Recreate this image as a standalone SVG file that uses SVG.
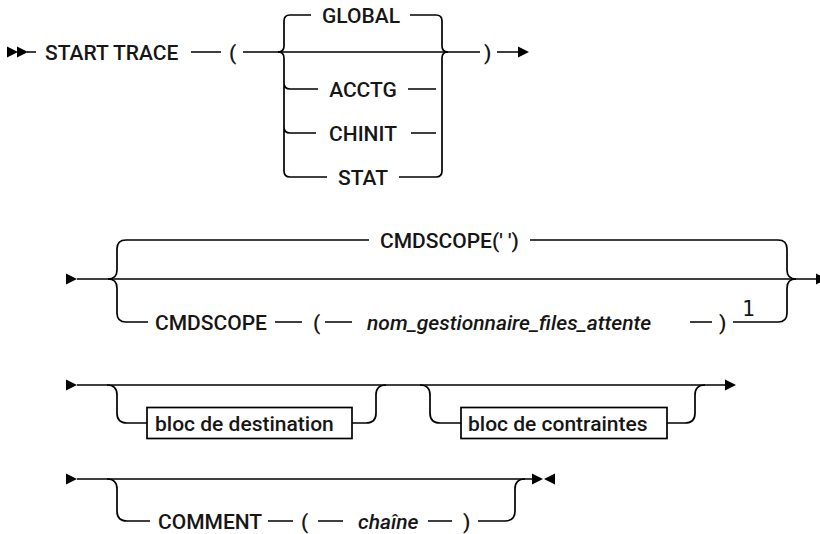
<svg xmlns="http://www.w3.org/2000/svg" xmlns:xlink="http://www.w3.org/1999/xlink" width="820" height="534" viewBox="0 0 820 534">
<style>
.ln{fill:none;stroke:#000;stroke-width:1.7}
.t{font-family:Roboto,"Liberation Sans",sans-serif;font-size:21px;font-weight:500;fill:#161616}
.i{font-style:italic}
.m{text-anchor:middle}
.box{fill:#fff;stroke:#000;stroke-width:1.7}
.sup{font-family:"DejaVu Sans Mono","Liberation Mono",monospace;font-size:21px;font-weight:500;fill:#161616}
</style>
<defs>
<path id="ar" d="M0,-5.5 L11,0 L0,5.5 Z" fill="#000"/>
<path id="al" d="M0,-5.5 L-11,0 L0,5.5 Z" fill="#000"/>
</defs>
<g id="connectors">
<path class="ln" d="M27,52 H36 M191,52 H221 M243,52 H480 M497,52 H519"/>
<path class="ln" d="M278,52 Q284,52 284,46 V21 Q284,15 290,15 H311 M410,15 H436 Q442,15 442,21 V46 Q442,52 448,52"/>
<path class="ln" d="M278,52 Q284,52 284,58 V171 Q284,177 290,177 H327 M284,83 Q284,89 290,89 H318 M284,127 Q284,133 290,133 H316"/>
<path class="ln" d="M399,177 H436 Q442,177 442,171 V58 Q442,52 448,52 M408,89 H436 M411,133 H436"/>
<path class="ln" d="M77,279 H816"/>
<path class="ln" d="M108,279 Q117,279 117,270 V249 Q117,240 126,240 H369 M530,240 H778 Q787,240 787,249 V270 Q787,279 796,279"/>
<path class="ln" d="M108,279 Q117,279 117,288 V313 Q117,322 126,322 H148 M275,322 H302 M325,322 H352 M690,322 H712 M733,322 H778 Q787,322 787,313 V288 Q787,279 796,279"/>
<path class="ln" d="M77,385 H725"/>
<path class="ln" d="M107,385 Q117,385 117,395 V413 Q117,423 127,423 H147 M352,423 H366 Q376,423 376,413 V395 Q376,385 386,385"/>
<path class="ln" d="M420,385 Q430,385 430,395 V413 Q430,423 440,423 H461 M667,423 H685 Q695,423 695,413 V395 Q695,385 705,385"/>
<path class="ln" d="M77,479 H532"/>
<path class="ln" d="M107,479 Q117,479 117,489 V511 Q117,521 127,521 H150 M268,521 H293 M318,521 H343 M428,521 H452 M478,521 H505 Q515,521 515,511 V489 Q515,479 525,479"/>
</g>
<g id="start1"><use xlink:href="#ar" x="7" y="52"/><use xlink:href="#ar" x="17" y="52"/></g>
<g id="kw-start-trace"><text class="t" x="45" y="59.5">START TRACE</text></g>
<g id="lparen1"><text class="t" x="229" y="59.5">(</text></g>
<g id="opt-global"><text class="t m" x="361" y="22.5">GLOBAL</text></g>
<g id="opt-acctg"><text class="t m" x="363" y="96.5">ACCTG</text></g>
<g id="opt-chinit"><text class="t m" x="363" y="140.5">CHINIT</text></g>
<g id="opt-stat"><text class="t m" x="363" y="184.5">STAT</text></g>
<g id="rparen1"><text class="t" x="484" y="59.5">)</text></g>
<g id="end1"><use xlink:href="#ar" x="518" y="52"/></g>
<g id="start2"><use xlink:href="#ar" x="66" y="279"/></g>
<g id="opt-cmdscope-default"><text class="t" x="380" y="247.5">CMDSCOPE(' ')</text></g>
<g id="kw-cmdscope"><text class="t" x="155" y="329.5">CMDSCOPE</text></g>
<g id="lparen2"><text class="t" x="313" y="329.5">(</text></g>
<g id="var-qmgr"><text class="t i" x="367" y="329.5">nom_gestionnaire_files_attente</text></g>
<g id="rparen2"><text class="t" x="719" y="329.5">)</text></g>
<g id="note1"><text class="sup" x="742" y="316">1</text></g>
<g id="end2"><use xlink:href="#ar" x="816" y="279"/></g>
<g id="start3"><use xlink:href="#ar" x="66" y="385"/></g>
<g id="bloc-destination"><rect class="box" x="147" y="407.5" width="205" height="31"/><text class="t" x="155" y="430.5">bloc de destination</text></g>
<g id="bloc-contraintes"><rect class="box" x="461" y="407.5" width="206" height="31"/><text class="t" x="468" y="430.5">bloc de contraintes</text></g>
<g id="end3"><use xlink:href="#ar" x="725" y="385"/></g>
<g id="start4"><use xlink:href="#ar" x="66" y="479"/></g>
<g id="kw-comment"><text class="t" x="158" y="528.5">COMMENT</text></g>
<g id="lparen4"><text class="t" x="301" y="528.5">(</text></g>
<g id="var-chaine"><text class="t i" x="358" y="528.5">chaîne</text></g>
<g id="rparen4"><text class="t" x="463" y="528.5">)</text></g>
<g id="end4"><use xlink:href="#ar" x="532" y="479"/><use xlink:href="#al" x="555" y="479"/></g>
</svg>
